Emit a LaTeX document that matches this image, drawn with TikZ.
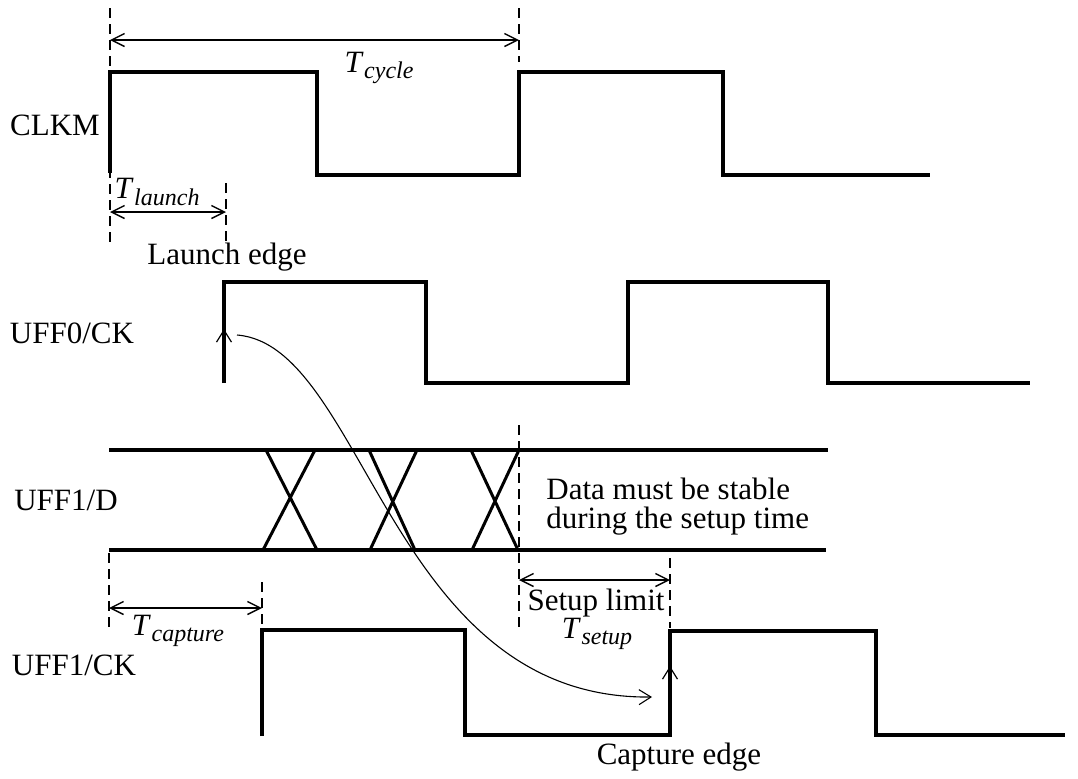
\documentclass[tikz,border=0pt]{standalone}
\usepackage{fontspec}
\setmainfont{Liberation Serif}
\usetikzlibrary{arrows.meta}
% italic T with an italic subscript, as used for the timing labels
\newcommand{\Tsub}[1]{\textit{T}\kern0.3pt\raisebox{-0.45ex}{\fontsize{12}{12}\selectfont\textit{#1}}}

\begin{document}
\begin{tikzpicture}[x=0.5pt,y=-0.5pt,
  wave/.style={line width=1.9pt, line join=miter},
  guide/.style={line width=1pt, dash pattern=on 5pt off 3pt},
  dim/.style={line width=0.7pt,
    {Straight Barb[length=6.5pt,width=6.5pt]}-{Straight Barb[length=6.5pt,width=6.5pt]}},
  edgemark/.style={line width=0.6pt, -{Straight Barb[length=6pt,width=7.5pt]}},
  flow/.style={line width=0.55pt, -{Straight Barb[length=6pt,width=7.5pt]}},
  lbl/.style={font=\fontsize{15.5}{14.5}\selectfont, inner sep=0pt},
]
\useasboundingbox (0,0) rectangle (1078,778);

% signal names
\node[lbl] (nclkm) at (55,125) {CLKM};
\node[lbl] (nuff0) at (72,333) {UFF0/CK};
\node[lbl] (nuffd) at (66,500) {UFF1/D};
\node[lbl] (nuffck) at (74,665) {UFF1/CK};

% CLKM
\draw[wave] (110,173) -- (110,72) -- (317,72) -- (317,175) -- (519,175)
  -- (519,72) -- (723,72) -- (723,175) -- (930,175);

% UFF0/CK
\draw[wave] (224,383) -- (224,282) -- (426,282) -- (426,383) -- (628,383)
  -- (628,282) -- (828,282) -- (828,383) -- (1030,383);

% UFF1/D data bus with transitions
\draw[wave] (109,450) -- (828,450);
\draw[wave] (109,550) -- (826,550);
\draw[line width=1.5pt] (266,450) -- (317,550) (315,450) -- (263,550);
\draw[line width=1.5pt] (369,450) -- (415,550) (417,450) -- (370,550);
\draw[line width=1.5pt] (471,450) -- (518,550) (519,450) -- (472,550);

% UFF1/CK
\draw[wave] (262,736) -- (262,630) -- (465,630) -- (465,735) -- (670,735)
  -- (670,631) -- (876,631) -- (876,735) -- (1065,735);

% guide lines
\draw[guide] (110,8) -- (110,245);
\draw[guide] (519,8) -- (519,62);
\draw[guide] (226,183) -- (226,245);
\draw[guide] (519,425) -- (519,632);
\draw[guide] (670,558) -- (670,628);
\draw[guide] (109,553) -- (109,632);
\draw[guide] (262,582) -- (262,625);

% dimension end points
\coordinate (cyA) at (110,40);   \coordinate (cyB) at (519,40);
\coordinate (laA) at (110,212);  \coordinate (laB) at (226,212);
\coordinate (suA) at (519,580);  \coordinate (suB) at (670,580);
\coordinate (caA) at (109,608);  \coordinate (caB) at (262,608);

\draw[dim] (cyA) -- (cyB);
\draw[dim] (laA) -- (laB);
\draw[dim] (suA) -- (suB);
\draw[dim] (caA) -- (caB);

\node[lbl] (tcycle) at (379,68) {\Tsub{cycle}};
\node[lbl] (tlaunch) at (157,192) {\Tsub{launch}};
\node[lbl] (tcapture) at (178,631) {\Tsub{capture}};
\node[lbl] (tsetup) at (597,634) {\Tsub{setup}};
\node[lbl] (setuplim) at (596,603) {Setup limit};
\node[lbl] (launch) at (227,257) {Launch edge};
\node[lbl] (capture) at (679,757) {Capture edge};
\node[lbl, align=left, anchor=west] (stable) at (546,507)
  {Data must be stable\\during the setup time};

% active clock edges
\coordinate (ledgeL) at (224,346); \coordinate (ledgeH) at (224,329);
\coordinate (cedgeL) at (670,683); \coordinate (cedgeH) at (670,666);
\draw[edgemark] (ledgeL) -- (ledgeH);
\draw[edgemark] (cedgeL) -- (cedgeH);

% launch-to-capture path
\coordinate (pstart) at (237,335);
\coordinate (pend) at (652,697);
\draw[flow] (pstart) .. controls (365,345) and (390,700) .. (pend);
\end{tikzpicture}
\end{document}
